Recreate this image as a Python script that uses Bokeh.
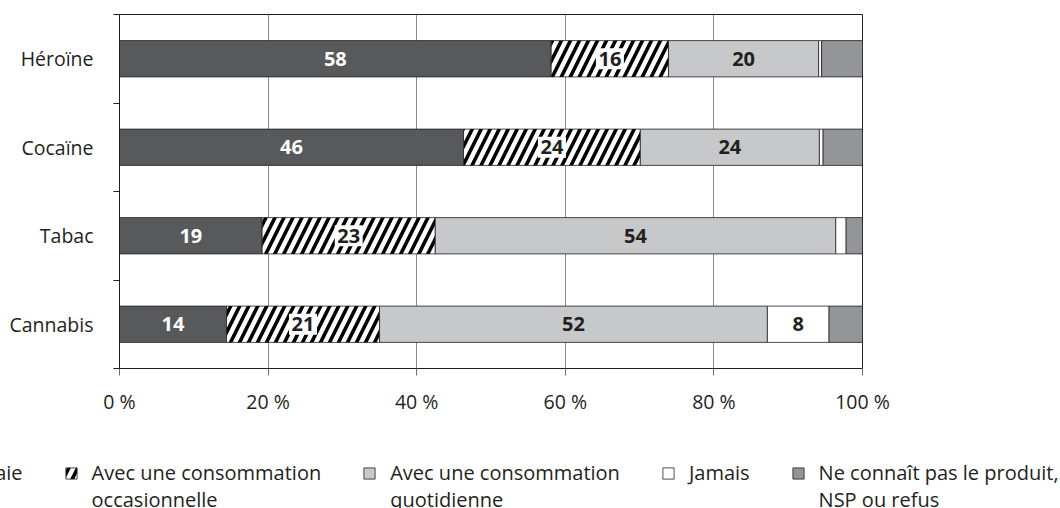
import numpy as np
from bokeh.plotting import figure
from bokeh.models import ColumnDataSource, Range1d, FixedTicker, Legend, LegendItem
from bokeh.core.properties import value
from bokeh.embed import file_html
from bokeh.resources import INLINE

# ---- data ----
categories = ["Héroïne", "Cocaïne", "Tabac", "Cannabis"]
des_qu_on_essaie = [58.1, 46.3, 19.2, 14.4]
occasionnelle = [15.8, 23.8, 23.3, 20.6]
quotidienne = [20.2, 24.1, 53.9, 52.2]
jamais = [0.4, 0.5, 1.4, 8.3]
ne_connait_pas = [5.5, 5.3, 2.2, 4.5]
# a leading blank line keeps each legend swatch level with the first line of its label
series_labels = [
    "Dès qu'on essaie",
    "\nAvec une consommation\noccasionnelle",
    "\nAvec une consommation\nquotidienne",
    "Jamais",
    "\nNe connaît pas le produit,\nNSP ou refus",
]
x_ticks = [0, 20, 40, 60, 80, 100]
x_tick_labels = ["0 %", "20 %", "40 %", "60 %", "80 %", "100 %"]

# ---- styles ----
FONT = "Open Sans"
INK = "#231f20"
fills = ["#58595b", "#ffffff", "#c7c8ca", "#ffffff", "#939598"]
hatches = [" ", "/", " ", " ", " "]
label_colors = ["#ffffff", INK, INK, INK]
label_bg = [None, "#ffffff", None, None]
bar_style = dict(fill_color=fills, line_color=INK, line_width=0.8,
                 hatch_pattern=hatches, hatch_color="black",
                 hatch_weight=3.6, hatch_scale=18)

n = len(categories)
y_pos = (n - np.arange(n) - 0.5).tolist()
series = [des_qu_on_essaie, occasionnelle, quotidienne, jamais, ne_connait_pas]
keys = ["s%d" % i for i in range(len(series))]

data = dict(y=y_pos)
for k, s in zip(keys, series):
    data[k] = s
source = ColumnDataSource(data)

p = figure(width=1060, height=420,
           x_range=Range1d(0, 100), y_range=Range1d(0, n),
           output_backend="svg", toolbar_location=None, tools="",
           min_border_left=119, min_border_right=198,
           min_border_top=14, min_border_bottom=52)
p.background_fill_color = "white"
p.border_fill_color = "white"
p.outline_line_color = INK
p.outline_line_width = 1

renderers = p.hbar_stack(keys, y="y", height=0.41, source=source, **bar_style)

# value labels
vals = np.array(series, dtype=float)
lefts = np.cumsum(vals, axis=0) - vals
centers = lefts + vals / 2.0
for i in range(4):
    mask = np.round(vals[i]) >= 5
    lsrc = ColumnDataSource(dict(
        x=centers[i][mask].tolist(),
        y=np.array(y_pos)[mask].tolist(),
        t=["%d" % round(v) for v in vals[i][mask]],
    ))
    if label_bg[i]:
        p.rect(x="x", y="y", width=28, height=21, width_units="screen",
               height_units="screen", source=lsrc,
               fill_color=label_bg[i], line_color=None)
    p.text(x="x", y="y", text="t", source=lsrc,
           text_font=value(FONT), text_font_style="bold", text_font_size="20px",
           text_color=label_colors[i], text_align="center", text_baseline="middle")

# x axis
p.xaxis.ticker = FixedTicker(ticks=x_ticks)
p.xaxis.major_label_overrides = {t: l for t, l in zip(x_ticks, x_tick_labels)}
p.xaxis.major_tick_out = 7
p.xaxis.major_tick_in = 0
p.xaxis.minor_tick_line_color = None
p.xaxis.major_tick_line_color = "#6d6e71"
p.xaxis.axis_line_color = INK
p.xaxis.major_label_standoff = 12
p.xaxis.major_label_text_font = FONT
p.xaxis.major_label_text_font_size = "19.5px"
p.xaxis.major_label_text_color = INK

# y axis: labels at category centres, ticks at category boundaries
p.yaxis.ticker = FixedTicker(ticks=y_pos, minor_ticks=list(range(n + 1)))
p.yaxis.major_label_overrides = {y: c for y, c in zip(y_pos, categories)}
p.yaxis.major_tick_line_color = None
p.yaxis.major_tick_out = 0
p.yaxis.major_tick_in = 0
p.yaxis.minor_tick_out = 6
p.yaxis.minor_tick_in = 0
p.yaxis.minor_tick_line_color = INK
p.yaxis.axis_line_color = INK
p.yaxis.major_label_standoff = 20
p.yaxis.major_label_text_font = FONT
p.yaxis.major_label_text_font_size = "19.5px"
p.yaxis.major_label_text_color = INK

p.xgrid.grid_line_color = "#8a8b8d"
p.xgrid.grid_line_width = 1
p.ygrid.visible = False

# ---- legend strip (own root, so the legend is not clipped by the chart frame) ----
# its renderers share the data but the view range keeps the bars themselves out of sight
pl = figure(width=1060, height=88, x_range=Range1d(-2, -1), y_range=Range1d(0, n),
            output_backend="svg", toolbar_location=None, tools="",
            x_axis_type=None, y_axis_type=None, min_border=0)
pl.outline_line_color = None
pl.background_fill_color = "white"
pl.border_fill_color = "white"
leg_renderers = pl.hbar_stack(keys, y="y", height=0.41, source=source, **bar_style)

legend = Legend(
    items=[LegendItem(label=lab, renderers=[r]) for lab, r in zip(series_labels, leg_renderers)],
    orientation="horizontal", location=(-162, -5),
    glyph_width=14, glyph_height=14, label_standoff=14, spacing=41,
    padding=0, margin=0, border_line_color=None, background_fill_alpha=0,
    label_text_font=FONT, label_text_font_size="20px", label_text_color=INK,
    label_text_line_height=1.3,
)
pl.add_layout(legend)

open("out.html", "w").write(file_html([p, pl], INLINE))
